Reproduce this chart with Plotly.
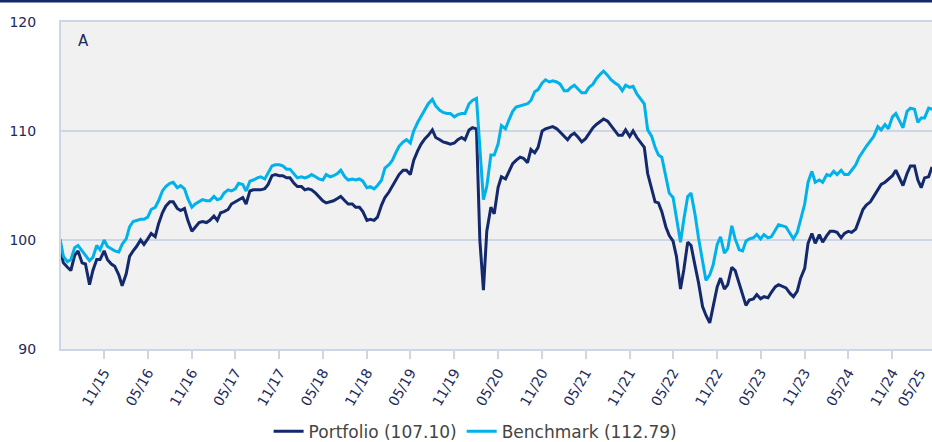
import pandas as pd
import plotly.graph_objects as go

# Semi-monthly observation dates (1st and 15th of each month)
dates = pd.date_range("2015-05-01", "2025-04-15", freq="SMS")

portfolio = [
    # 2015 May-Dec
    99.2, 97.9, 97.5, 97.2, 98.6, 99.0, 97.9, 97.8, 95.9, 97.2, 98.2, 98.2, 99.0, 98.2, 97.8, 97.6,
    # 2016
    96.8, 95.8, 96.9, 98.5, 99.0, 99.4, 100.0, 99.6, 100.1, 100.6, 100.3, 101.5,
    102.5, 103.1, 103.5, 103.5, 102.9, 102.7, 102.9, 101.8, 100.8, 101.2, 101.6, 101.7,
    # 2017
    101.6, 101.8, 102.2, 101.8, 102.5, 102.6, 102.8, 103.3, 103.5, 103.7, 103.9, 103.3,
    104.5, 104.6, 104.6, 104.6, 104.7, 105.1, 105.9, 106.0, 105.9, 105.9, 105.7, 105.7,
    # 2018
    105.2, 104.9, 104.9, 104.6, 104.7, 104.6, 104.3, 104.0, 103.6, 103.4, 103.5, 103.6,
    103.8, 104.0, 103.6, 103.3, 103.3, 103.0, 103.0, 102.6, 101.8, 101.9, 101.8, 102.1,
    # 2019
    103.2, 103.9, 104.4, 104.9, 105.5, 106.0, 106.4, 106.4, 106.0, 107.3, 108.2, 108.8,
    109.3, 109.6, 110.1, 109.4, 109.2, 109.0, 108.9, 108.8, 108.9, 109.2, 109.4, 109.2,
    # 2020
    110.1, 110.3, 110.2, 100.0, 95.4, 100.8, 103.0, 102.4, 104.8, 105.8, 105.6, 106.3,
    107.0, 107.3, 107.6, 107.5, 107.1, 108.3, 108.0, 108.5, 110.0, 110.2, 110.3, 110.4,
    # 2021
    110.2, 109.9, 109.5, 109.2, 109.6, 109.8, 109.4, 109.0, 109.3, 109.8, 110.3, 110.6,
    110.9, 111.1, 110.9, 110.5, 110.0, 109.6, 109.6, 110.1, 109.5, 110.0, 109.4, 109.0,
    # 2022
    108.5, 106.1, 104.8, 103.5, 103.4, 102.6, 101.2, 100.4, 99.9, 98.5, 95.5, 97.3,
    99.8, 99.5, 97.6, 96.1, 93.9, 93.1, 92.4, 93.9, 95.7, 96.5, 95.5, 95.9,
    # 2023
    97.5, 97.2, 95.9, 94.9, 94.0, 94.5, 94.6, 95.0, 94.6, 94.8, 94.7, 95.2,
    95.7, 95.9, 95.7, 95.6, 95.1, 94.8, 95.3, 96.5, 97.4, 99.7, 100.6, 99.7,
    # 2024
    100.5, 99.8, 100.4, 100.8, 100.8, 100.7, 100.2, 100.6, 100.8, 100.7, 101.0, 101.9,
    102.8, 103.2, 103.5, 104.0, 104.6, 105.1, 105.3, 105.6, 105.9, 106.4, 105.7, 105.0,
    # 2025 Jan-Apr
    106.1, 106.8, 106.8, 105.5, 104.8, 105.7, 105.8, 106.7,
]

benchmark = [
    # 2015 May-Dec
    100.1, 98.5, 98.0, 98.2, 99.3, 99.5, 99.0, 98.6, 98.1, 98.4, 99.5, 99.1, 100.0, 99.4, 99.2, 99.0,
    # 2016
    98.9, 99.6, 100.1, 101.2, 101.7, 101.8, 101.9, 101.9, 102.1, 102.8, 103.0, 103.6,
    104.5, 104.9, 105.2, 105.3, 104.8, 105.0, 104.7, 103.8, 103.0, 103.3, 103.5, 103.7,
    # 2017
    103.6, 103.6, 104.0, 103.7, 103.8, 104.3, 104.6, 104.5, 104.7, 105.2, 105.1, 104.5,
    105.4, 105.5, 105.7, 105.8, 105.6, 106.1, 106.8, 106.9, 106.9, 106.8, 106.5, 106.5,
    # 2018
    106.0, 105.7, 105.8, 105.7, 105.8, 106.0, 105.8, 105.6, 105.5, 106.0, 105.8, 105.9,
    106.1, 106.4, 105.8, 105.5, 105.6, 105.5, 105.6, 105.4, 104.8, 104.9, 104.7, 105.0,
    # 2019
    105.5, 106.6, 106.9, 107.3, 108.0, 108.6, 109.0, 109.2, 108.9, 110.0, 110.8, 111.3,
    112.0, 112.5, 112.9, 112.3, 111.9, 111.7, 111.6, 111.6, 111.3, 111.5, 111.6, 111.6,
    # 2020
    112.5, 112.8, 113.0, 108.9, 103.7, 104.9, 107.8, 107.8, 108.8, 110.5, 110.2, 111.0,
    111.8, 112.2, 112.3, 112.4, 112.5, 112.8, 113.6, 113.8, 114.4, 114.7, 114.5, 114.6,
    # 2021
    114.5, 114.3, 113.7, 113.7, 114.0, 114.2, 113.8, 113.5, 113.5, 114.0, 114.3, 114.8,
    115.2, 115.5, 115.1, 114.7, 114.4, 114.2, 113.7, 114.2, 114.0, 114.1, 113.4, 113.0,
    # 2022
    112.5, 110.1, 109.5, 108.5, 107.8, 107.6, 105.8, 104.3, 103.9, 102.0, 99.8, 101.9,
    104.0, 104.3, 102.3, 100.2, 98.2, 96.3, 96.8, 97.7, 99.6, 100.3, 98.8, 99.2,
    # 2023
    101.3, 100.1, 99.1, 99.0, 99.9, 100.1, 100.2, 100.5, 100.1, 100.5, 100.2, 100.3,
    100.9, 101.4, 101.3, 101.2, 100.6, 100.1, 100.7, 101.9, 103.3, 105.3, 106.3, 105.3,
    # 2024
    105.5, 105.3, 106.0, 105.9, 106.3, 106.0, 106.4, 106.0, 106.0, 106.4, 106.9, 107.6,
    108.2, 108.6, 109.1, 109.5, 110.4, 110.1, 110.6, 110.2, 111.3, 111.6, 110.9, 110.3,
    # 2025 Jan-Apr
    111.8, 112.1, 112.0, 110.8, 111.2, 111.2, 112.1, 112.0,
]

series_names = ["Portfolio (107.10)", "Benchmark (112.79)"]
panel_label = "A"
y_ticks = [90, 100, 110, 120]
x_start, x_end = "2015-05-05", "2025-04-15"
clipped_tick_label = "05/25"

NAVY = "#13296b"
CYAN = "#00b2ea"
GRID = "#cdd6e5"
TEXT = "#1d2b5c"
FONT = "DejaVu Sans"

fig = go.Figure()
fig.add_trace(go.Scatter(x=dates, y=portfolio, mode="lines", name=series_names[0],
                         line=dict(color=NAVY, width=3)))
fig.add_trace(go.Scatter(x=dates, y=benchmark, mode="lines", name=series_names[1],
                         line=dict(color=CYAN, width=3)))

fig.update_layout(
    width=932, height=442,
    margin=dict(l=61, r=0, t=22, b=93, autoexpand=False),
    paper_bgcolor="white",
    plot_bgcolor="#f1f1f1",
    font=dict(family=FONT, color=TEXT, size=14),
    showlegend=True,
    legend=dict(orientation="h", x=0.476, xanchor="center", y=-0.198, yanchor="top",
                font=dict(size=17, color="#444444", family=FONT),
                bgcolor="rgba(0,0,0,0)", itemwidth=30),
    xaxis=dict(
        type="date", automargin=False,
        range=[x_start, x_end],
        tick0="2015-11-01", dtick="M6", tickformat="%m/%y",
        tickangle=-60,
        ticks="outside", ticklen=8, tickcolor=GRID, tickwidth=2,
        showline=True, linecolor=GRID, linewidth=2, mirror=True,
        showgrid=False, zeroline=False,
        tickfont=dict(size=14, color=TEXT),
    ),
    yaxis=dict(
        range=[90, 120], tickvals=y_ticks, automargin=False,
        ticks="outside", ticklen=20, tickcolor="rgba(0,0,0,0)",
        showline=True, linecolor=GRID, linewidth=2,
        showgrid=True, gridcolor=GRID, gridwidth=2, zeroline=False,
        tickfont=dict(size=14, color=TEXT),
    ),
    annotations=[
        dict(text=panel_label, xref="paper", yref="paper", x=0.0172, y=0.942,
             xanchor="left", yanchor="middle", showarrow=False,
             font=dict(size=15, color=TEXT, family=FONT)),
        # tick label of the next tick, at the cropped right edge
        dict(text=clipped_tick_label, xref="paper", yref="paper", x=0.976, y=-0.118,
             xanchor="center", yanchor="middle", showarrow=False, textangle=-60,
             font=dict(size=14, color=TEXT, family=FONT)),
    ],
    shapes=[dict(type="rect", xref="paper", yref="paper", x0=-0.08, x1=1.01,
                 y0=1.0596, y1=1.09, fillcolor=NAVY, line=dict(width=0), layer="above")],
)

fig.write_html("out.html", config={"displayModeBar": False},
               post_script="document.body.style.margin='0px';document.body.style.overflow='hidden';")
